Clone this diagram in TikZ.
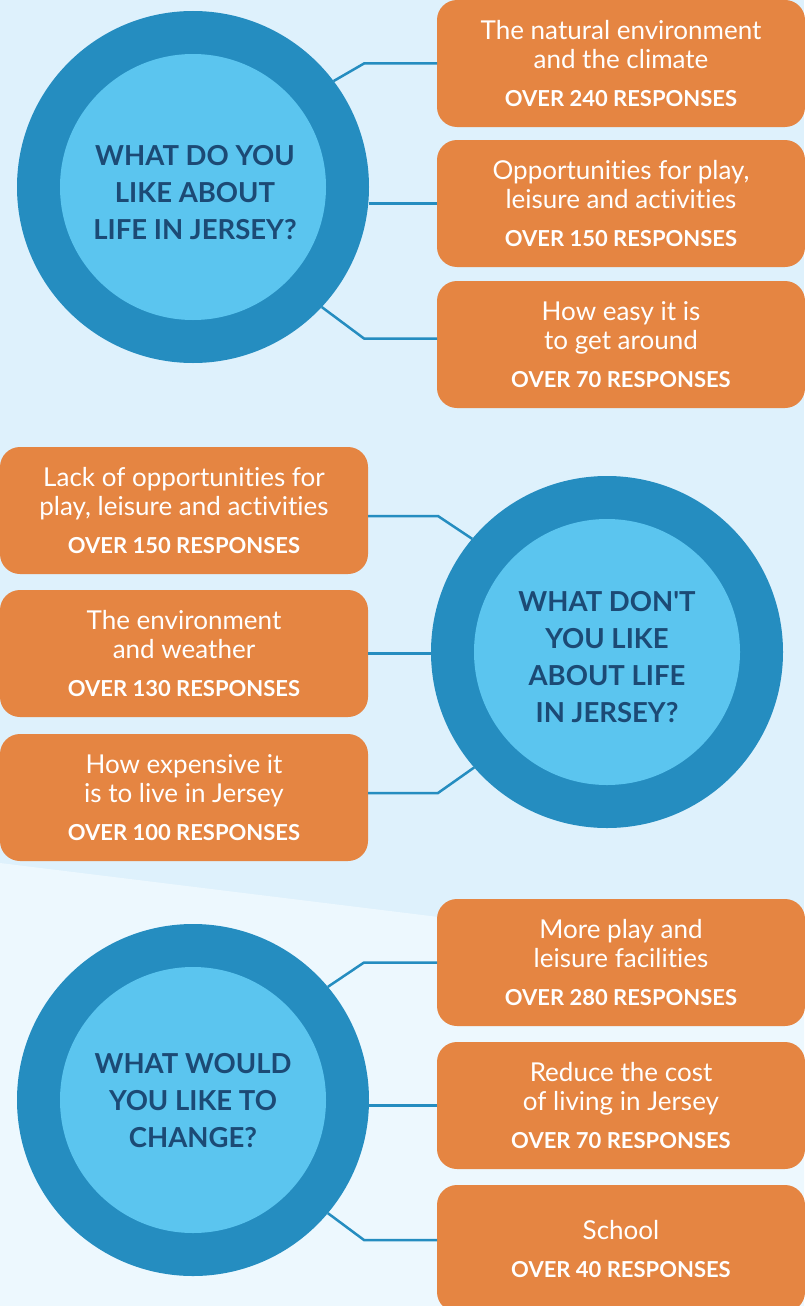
\documentclass[tikz,border=0pt]{standalone}
\usepackage{fontspec}
\setmainfont{Lato}[Ligatures={TeX,NoCommon}]
\definecolor{bgtop}{HTML}{DEF1FC}
\definecolor{bglow}{HTML}{EDF8FE}
\definecolor{ringblue}{HTML}{258DC0}
\definecolor{coreblue}{HTML}{5BC5EF}
\definecolor{navy}{HTML}{1C4A75}
\definecolor{boxorange}{HTML}{E58542}
\newcommand\answertext[2]{#1\\[9pt]{\fontsize{22}{29}\selectfont\bfseries #2}}
\begin{document}
\begin{tikzpicture}[x=1pt,y=-1pt,
    ring/.style={circle, fill=ringblue, minimum size=352pt, inner sep=0pt, outer sep=0pt},
    core/.style={circle, fill=coreblue, minimum size=266pt, inner sep=0pt},
    question/.style={text=navy, align=center, inner sep=0pt, font=\fontsize{27.5}{37}\selectfont\bfseries},
    answer/.style={rectangle, rounded corners=20pt, fill=boxorange, minimum width=368pt, minimum height=127pt, inner sep=0pt, outer sep=0pt, text=white, align=center, font=\fontsize{26}{29}\selectfont},
    link/.style={draw=ringblue, line width=2.5pt}]
    \useasboundingbox (0,0) rectangle (804,1306);
    \fill[bgtop] (0,0) rectangle (804,1306);
    \fill[bglow] (0,863) -- (804,962) -- (804,1306) -- (0,1306) -- cycle;

    % what do you like
    \node[ring] (q1) at (193,187) {};
    \node[core] (q1in) at (q1) {};
    \node[question] (q1txt) at ([xshift=2pt,yshift=-6pt]q1) {WHAT DO YOU\\LIKE ABOUT\\LIFE IN JERSEY?};
    \node[answer] (a1) at (621,63.5) {\answertext{The natural environment\\and the climate}{OVER 240 RESPONSES}};
    \node[answer] (a2) at (621,203.5) {\answertext{Opportunities for play,\\leisure and activities}{OVER 150 RESPONSES}};
    \node[answer] (a3) at (621,344.5) {\answertext{How easy it is\\to get around}{OVER 70 RESPONSES}};
    \draw[link] (a1.west) -- ++(-73,0) -- (q1.37);
    \draw[link] (a2.west) -- (a2.west -| q1.east);
    \draw[link] ([yshift=6pt]a3.west) -- ++(-73,0) -- (q1.-43);

    % what don't you like
    \node[ring] (q2) at (607,652) {};
    \node[core] (q2in) at (q2) {};
    \node[question] (q2txt) at ([yshift=-5pt]q2) {WHAT DON{\textquotesingle}T\\YOU LIKE\\ABOUT LIFE\\IN JERSEY?};
    \node[answer] (a4) at (184,510.5) {\answertext{Lack of opportunities for\\play, leisure and activities}{OVER 150 RESPONSES}};
    \node[answer] (a5) at (184,653.5) {\answertext{The environment\\and weather}{OVER 130 RESPONSES}};
    \node[answer] (a6) at (184,797.5) {\answertext{How expensive it\\is to live in Jersey}{OVER 100 RESPONSES}};
    \draw[link] ([yshift=-5.5pt]a4.east) -- ++(70,0) -- (q2.140);
    \draw[link] (a5.east) -- (a5.east -| q2.west);
    \draw[link] ([yshift=4.5pt]a6.east) -- ++(70,0) -- (q2.-139);

    % what would you change
    \node[ring] (q3) at (193,1100) {};
    \node[core] (q3in) at (q3) {};
    \node[question] (q3txt) at ([yshift=-1pt]q3) {WHAT WOULD\\YOU LIKE TO\\CHANGE?};
    \node[answer] (a7) at (621,962.5) {\answertext{More play and\\leisure facilities}{OVER 280 RESPONSES}};
    \node[answer] (a8) at (621,1105.5) {\answertext{Reduce the cost\\of living in Jersey}{OVER 70 RESPONSES}};
    \node[answer] (a9) at (621,1248.5) {\answertext{School}{OVER 40 RESPONSES}};
    \draw[link] (a7.west) -- ++(-73,0) -- (q3.40);
    \draw[link] (a8.west) -- (a8.west -| q3.east);
    \draw[link] ([yshift=8.5pt]a9.west) -- ++(-73,0) -- (q3.-40);
\end{tikzpicture}
\end{document}
